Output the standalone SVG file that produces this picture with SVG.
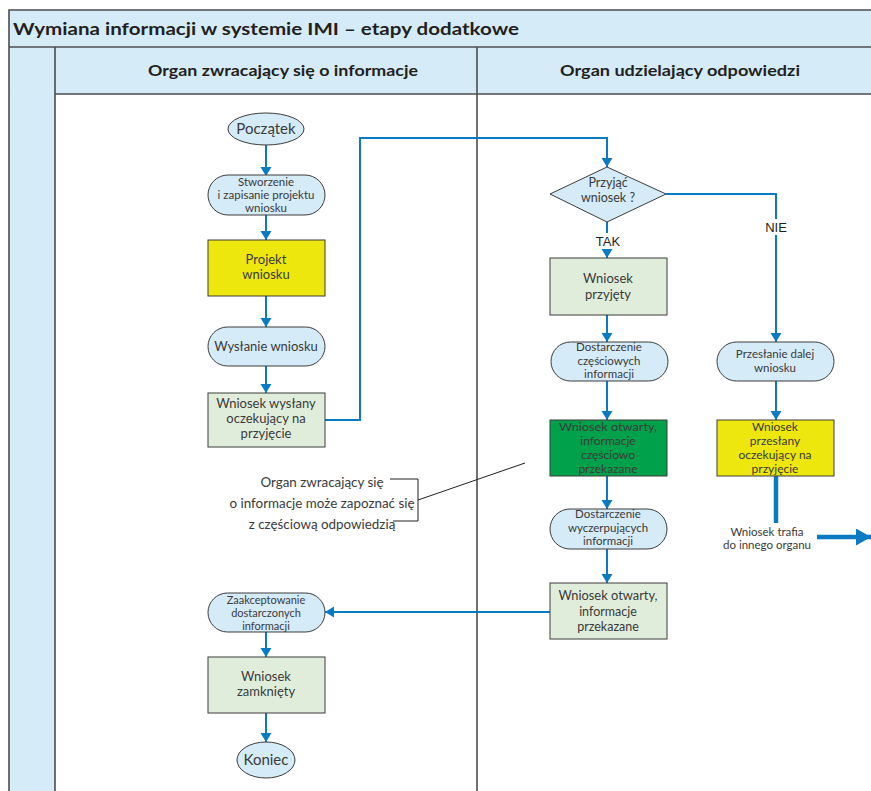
<svg xmlns="http://www.w3.org/2000/svg" width="871" height="791" viewBox="0 0 871 791">
<defs>
<style>
.frame{fill:#d6ebf8;stroke:none}
.fl{stroke:#4d4d4f;stroke-width:1.6;fill:none}
.blue{fill:#d6ebf8;stroke:#3c3c3c;stroke-width:1}
.yel{fill:#ede70e;stroke:#3c3c3c;stroke-width:1}
.lg{fill:#e1eddb;stroke:#3c3c3c;stroke-width:1}
.dg{fill:#00a14b;stroke:#3c3c3c;stroke-width:1}
.t{font-family:Lato,"Noto Sans",sans-serif;fill:#3a3a3a;text-anchor:middle}
.h{font-family:Lato,"Noto Sans",sans-serif;font-weight:bold;fill:#231f20}
.c{stroke:#0a7bc2;stroke-width:2;fill:none}
.lab{font-family:"Liberation Sans",Arial,sans-serif;font-size:13px;fill:#222;text-anchor:middle}
</style>
<marker id="ah" markerUnits="userSpaceOnUse" markerWidth="10" markerHeight="12" refX="9" refY="5.5" orient="auto"><path d="M0,0 L9,5.5 L0,11 z" fill="#0a7bc2"/></marker>
<marker id="bh" markerUnits="userSpaceOnUse" markerWidth="16" markerHeight="18" refX="15" refY="8.5" orient="auto"><path d="M0,0 L15,8.5 L0,17 z" fill="#0a7bc2"/></marker>
</defs>

<g id="frame">
<rect class="frame" x="9" y="10" width="862" height="37"/>
<rect class="frame" x="9" y="47" width="46" height="744"/>
<rect class="frame" x="55" y="47" width="816" height="47"/>
<path class="fl" d="M871,10 H9 V791 M9,47 H871 M55,94 H871 M55,47 V791 M477,47 V791"/>
<text class="h" x="13" y="35" font-size="17.5" textLength="506" lengthAdjust="spacingAndGlyphs">Wymiana informacji w systemie IMI – etapy dodatkowe</text>
<text class="h" x="148" y="76" font-size="15.5" textLength="270" lengthAdjust="spacingAndGlyphs">Organ zwracający się o informacje</text>
<text class="h" x="560" y="76" font-size="15.5" textLength="240" lengthAdjust="spacingAndGlyphs">Organ udzielający odpowiedzi</text>
</g>

<g id="connectors">
<path class="c" d="M266,145 V176" marker-end="url(#ah)"/>
<path class="c" d="M266,215 V240" marker-end="url(#ah)"/>
<path class="c" d="M266,296 V327" marker-end="url(#ah)"/>
<path class="c" d="M266,366 V393" marker-end="url(#ah)"/>
<path class="c" d="M325,420 H360 V138 H607 V167" marker-end="url(#ah)"/>
<path class="c" d="M607,222 V258" marker-end="url(#ah)"/>
<path class="c" d="M666,194 H776 V342" marker-end="url(#ah)"/>
<path class="c" d="M607,315 V342" marker-end="url(#ah)"/>
<path class="c" d="M607,381 V420" marker-end="url(#ah)"/>
<path class="c" d="M776,381 V420" marker-end="url(#ah)"/>
<path class="c" d="M607,476 V509" marker-end="url(#ah)"/>
<path class="c" d="M607,549 V583" marker-end="url(#ah)"/>
<path class="c" d="M550,612 H325" marker-end="url(#ah)"/>
<path class="c" d="M266,632 V657" marker-end="url(#ah)"/>
<path class="c" d="M266,713 V742" marker-end="url(#ah)"/>
<path d="M776,476 V523" stroke="#0a7bc2" stroke-width="4.5" fill="none"/>
<path d="M817,537 H871" stroke="#0a7bc2" stroke-width="4.5" fill="none" marker-end="url(#bh)"/>
<rect x="594" y="233" width="28" height="16" fill="#fff"/>
<text class="lab" x="608" y="246">TAK</text>
<rect x="762" y="219" width="28" height="16" fill="#fff"/>
<text class="lab" x="776" y="232">NIE</text>
</g>

<g id="poczatek">
<ellipse class="blue" cx="266" cy="129" rx="38" ry="16"/>
<text class="t" x="266" y="134" font-size="15">Początek</text>
</g>
<g id="stworzenie">
<rect class="blue" x="208" y="175" width="117" height="40" rx="20"/>
<text class="t" font-size="11.5"><tspan x="266" y="186">Stworzenie</tspan><tspan x="266" y="199">i zapisanie projektu</tspan><tspan x="266" y="212">wniosku</tspan></text>
</g>
<g id="projekt">
<rect class="yel" x="208" y="240" width="117" height="56"/>
<text class="t" font-size="13"><tspan x="266" y="264">Projekt</tspan><tspan x="266" y="279">wniosku</tspan></text>
</g>
<g id="wyslanie">
<rect class="blue" x="208" y="327" width="117" height="39" rx="19.5"/>
<text class="t" x="266" y="351" font-size="13">Wysłanie wniosku</text>
</g>
<g id="wyslany">
<rect class="lg" x="208" y="393" width="117" height="54"/>
<text class="t" font-size="13"><tspan x="266" y="408">Wniosek wysłany</tspan><tspan x="266" y="423">oczekujący na</tspan><tspan x="266" y="438">przyjęcie</tspan></text>
</g>
<g id="przyjac">
<polygon class="blue" points="550,194 607,167 666,194 607,222"/>
<text class="t" font-size="12.5"><tspan x="608" y="187">Przyjąć</tspan><tspan x="608" y="202">wniosek ?</tspan></text>
</g>
<g id="przyjety">
<rect class="lg" x="550" y="258" width="117" height="57"/>
<text class="t" font-size="13"><tspan x="608" y="283">Wniosek</tspan><tspan x="608" y="299">przyjęty</tspan></text>
</g>
<g id="czesciowych">
<rect class="blue" x="551" y="342" width="117" height="39" rx="19.5"/>
<text class="t" font-size="11.5"><tspan x="609" y="351">Dostarczenie</tspan><tspan x="609" y="365">częściowych</tspan><tspan x="609" y="378">informacji</tspan></text>
</g>
<g id="przeslanie">
<rect class="blue" x="717" y="342" width="117" height="39" rx="19.5"/>
<text class="t" font-size="11.5"><tspan x="775" y="358">Przesłanie dalej</tspan><tspan x="775" y="372">wniosku</tspan></text>
</g>
<g id="otwarty-czesciowo">
<rect class="dg" x="550" y="420" width="117" height="56"/>
<text class="t" font-size="12"><tspan x="608" y="431" textLength="98" lengthAdjust="spacingAndGlyphs">Wniosek otwarty,</tspan><tspan x="608" y="445">informacje</tspan><tspan x="608" y="459">częściowo</tspan><tspan x="608" y="473">przekazane</tspan></text>
</g>
<g id="przeslany">
<rect class="yel" x="717" y="420" width="117" height="56"/>
<text class="t" font-size="12"><tspan x="775" y="431">Wniosek</tspan><tspan x="775" y="445">przesłany</tspan><tspan x="775" y="459">oczekujący na</tspan><tspan x="775" y="473">przyjęcie</tspan></text>
</g>
<g id="trafia">
<text class="t" font-size="11.5"><tspan x="767" y="536">Wniosek trafia</tspan><tspan x="767" y="549">do innego organu</tspan></text>
</g>
<g id="wyczerpujacych">
<rect class="blue" x="550" y="509" width="117" height="40" rx="20"/>
<text class="t" font-size="11.5"><tspan x="608" y="518">Dostarczenie</tspan><tspan x="608" y="532">wyczerpujących</tspan><tspan x="608" y="545">informacji</tspan></text>
</g>
<g id="przekazane">
<rect class="lg" x="550" y="583" width="117" height="56"/>
<text class="t" font-size="12.5"><tspan x="608" y="600" textLength="99" lengthAdjust="spacingAndGlyphs">Wniosek otwarty,</tspan><tspan x="608" y="615.5">informacje</tspan><tspan x="608" y="631">przekazane</tspan></text>
</g>
<g id="zaakceptowanie">
<rect class="blue" x="208" y="593" width="117" height="39" rx="19.5"/>
<text class="t" font-size="11"><tspan x="266" y="604">Zaakceptowanie</tspan><tspan x="266" y="617">dostarczonych</tspan><tspan x="266" y="630">informacji</tspan></text>
</g>
<g id="zamkniety">
<rect class="lg" x="208" y="657" width="117" height="56"/>
<text class="t" font-size="13"><tspan x="266" y="681">Wniosek</tspan><tspan x="266" y="696">zamknięty</tspan></text>
</g>
<g id="koniec">
<ellipse class="blue" cx="266" cy="760" rx="29" ry="18"/>
<text class="t" x="266" y="765" font-size="15">Koniec</text>
</g>
<g id="annotation">
<text class="t" font-size="13.4"><tspan x="322" y="487">Organ zwracający się</tspan><tspan x="322" y="508">o informacje może zapoznać się</tspan><tspan x="322" y="529">z częściową odpowiedzią</tspan></text>
<path d="M390,479 H418 V521 H393 M418,500 L525,463" stroke="#231f20" stroke-width="1" fill="none"/>
</g>
</svg>
